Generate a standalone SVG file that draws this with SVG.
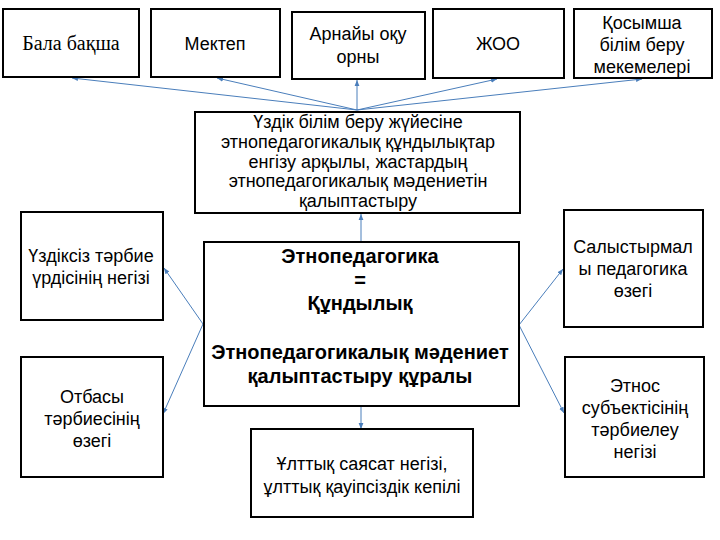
<svg xmlns="http://www.w3.org/2000/svg" width="720" height="540" viewBox="0 0 720 540">
<style>
  .box { fill: #ffffff; stroke: #000000; stroke-width: 2; }
  .t { font-family: "Liberation Sans", Arial, sans-serif; font-size: 18px; fill: #000000; text-anchor: middle; }
  .s { font-family: "Liberation Serif", "DejaVu Serif", "Times New Roman", serif; font-size: 20px; fill: #000000; text-anchor: middle; }
  .b { font-weight: bold; font-size: 20px; }
  .c { stroke: #4a7ebb; stroke-width: 1; fill: none; marker-end: url(#ah); }
</style>
<defs>
  <marker id="ah" viewBox="0 0 10 10" refX="10" refY="5" markerWidth="6" markerHeight="6" orient="auto" markerUnits="userSpaceOnUse">
    <path d="M0,1 L10,5 L0,9 Z" fill="#4a7ebb"/>
  </marker>
</defs>
<rect width="720" height="540" fill="#ffffff"/>

<g id="connectors">
  <line class="c" x1="357" y1="110" x2="72" y2="78"/>
  <line class="c" x1="357" y1="110" x2="217" y2="78"/>
  <line class="c" x1="357" y1="110" x2="357" y2="80"/>
  <line class="c" x1="357" y1="110" x2="497" y2="79"/>
  <line class="c" x1="357" y1="110" x2="642" y2="79"/>
  <line class="c" x1="361" y1="242" x2="361" y2="214"/>
  <line class="c" x1="361" y1="310" x2="361" y2="342"/>
  <line class="c" x1="203" y1="324" x2="164" y2="268"/>
  <line class="c" x1="203" y1="324" x2="163" y2="414"/>
  <line class="c" x1="519" y1="325" x2="563" y2="269"/>
  <line class="c" x1="519" y1="325" x2="564" y2="413"/>
  <line class="c" x1="361" y1="406" x2="361" y2="429"/>
</g>

<g id="n-bala">
  <rect class="box" x="3" y="9" width="136" height="68"/>
  <text class="s" x="71" y="50">Бала бақша</text>
</g>
<g id="n-mektep">
  <rect class="box" x="151" y="9" width="129" height="68"/>
  <text class="t" x="215" y="50">Мектеп</text>
</g>
<g id="n-arnaiy">
  <rect class="box" x="292" y="12" width="133" height="67"/>
  <text class="t" x="358" y="40">Арнайы оқу</text>
  <text class="t" x="358" y="63">орны</text>
</g>
<g id="n-zhoo">
  <rect class="box" x="433" y="9" width="131" height="69"/>
  <text class="t" x="498" y="50">ЖОО</text>
</g>
<g id="n-kosymsha">
  <rect class="box" x="574" y="9" width="138" height="69"/>
  <text class="t" x="642" y="29">Қосымша</text>
  <text class="t" x="642" y="51">білім беру</text>
  <text class="t" x="642" y="73">мекемелері</text>
</g>

<g id="n-uzdik">
  <rect class="box" x="195" y="112" width="325" height="101"/>
  <text class="t" x="358" y="128">Үздік білім беру жүйесіне</text>
  <text class="t" x="358" y="148">этнопедагогикалық құндылықтар</text>
  <text class="t" x="358" y="168">енгізу арқылы, жастардың</text>
  <text class="t" x="358" y="187">этнопедагогикалық мәдениетін</text>
  <text class="t" x="358" y="207">қалыптастыру</text>
</g>

<g id="n-center">
  <rect class="box" x="204" y="242" width="315" height="164"/>
  <text class="t b" x="360" y="263">Этнопедагогика</text>
  <text class="t b" x="360" y="287">=</text>
  <text class="t b" x="360" y="310">Құндылық</text>
  <text class="t b" x="360" y="359">Этнопедагогикалық мәдениет</text>
  <text class="t b" x="360" y="383">қалыптастыру құралы</text>
</g>

<g id="n-uzdiksiz">
  <rect class="box" x="21" y="212" width="142" height="108"/>
  <text class="t" x="91" y="262">Үздіксіз тәрбие</text>
  <text class="t" x="91" y="284">үрдісінің негізі</text>
</g>
<g id="n-otbasy">
  <rect class="box" x="21" y="357" width="142" height="120"/>
  <text class="t" x="92" y="403">Отбасы</text>
  <text class="t" x="92" y="425">тәрбиесінің</text>
  <text class="t" x="92" y="447">өзегі</text>
</g>
<g id="n-salystyrmaly">
  <rect class="box" x="564" y="210" width="139" height="117"/>
  <text class="t" x="633" y="253">Салыстырмал</text>
  <text class="t" x="633" y="275">ы педагогика</text>
  <text class="t" x="633" y="297">өзегі</text>
</g>
<g id="n-etnos">
  <rect class="box" x="565" y="357" width="139" height="120"/>
  <text class="t" x="635" y="392">Этнос</text>
  <text class="t" x="635" y="414">субъектісінің</text>
  <text class="t" x="635" y="436">тәрбиелеу</text>
  <text class="t" x="635" y="458">негізі</text>
</g>
<g id="n-ulttyk">
  <rect class="box" x="251" y="429" width="222" height="88"/>
  <text class="t" x="362" y="470">Ұлттық саясат негізі,</text>
  <text class="t" x="362" y="493">ұлттық қауіпсіздік кепілі</text>
</g>
</svg>
